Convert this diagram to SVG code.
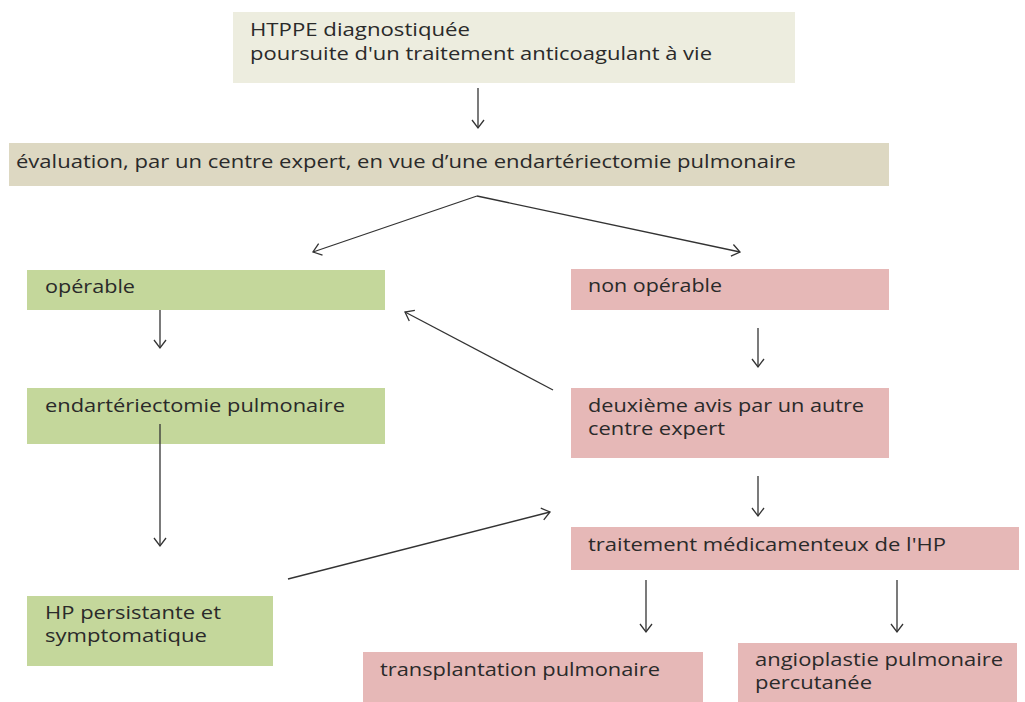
<svg xmlns="http://www.w3.org/2000/svg" width="1025" height="702" viewBox="0 0 1025 702">
<defs>
<style>
.t{font-family:"Open Sans","Noto Sans","Liberation Sans",sans-serif;font-size:18px;fill:#2a2a2a}
.g{fill:#c4d79b}
.p{fill:#e6b8b7}
.c{stroke:#333;stroke-width:1.3;fill:none;marker-end:url(#a)}
</style>
<marker id="a" markerWidth="14" markerHeight="14" refX="10" refY="7" orient="auto" markerUnits="userSpaceOnUse">
<path d="M2,1 L10,7 L2,13" fill="none" stroke="#333" stroke-width="1.3"/>
</marker>
</defs>
<rect width="1025" height="702" fill="#fff"/>
<g id="n1"><rect x="233" y="12" width="562" height="71" fill="#ededdf"/>
<text class="t" x="250" y="36" textLength="220" lengthAdjust="spacingAndGlyphs">HTPPE diagnostiquée</text>
<text class="t" x="250" y="60" textLength="462" lengthAdjust="spacingAndGlyphs">poursuite d'un traitement anticoagulant à vie</text></g>
<g id="n2"><rect x="9" y="143" width="880" height="43" fill="#ddd8c2"/>
<text class="t" x="16" y="168" textLength="780" lengthAdjust="spacingAndGlyphs">évaluation, par un centre expert, en vue d’une endartériectomie pulmonaire</text></g>
<g id="n3"><rect class="g" x="27" y="270" width="358" height="40"/>
<text class="t" x="45" y="293" textLength="90" lengthAdjust="spacingAndGlyphs">opérable</text></g>
<g id="n4"><rect class="g" x="27" y="388" width="358" height="56"/>
<text class="t" x="45" y="412" textLength="300" lengthAdjust="spacingAndGlyphs">endartériectomie pulmonaire</text></g>
<g id="n5"><rect class="g" x="27" y="596" width="246" height="70"/>
<text class="t" x="45" y="619" textLength="176" lengthAdjust="spacingAndGlyphs">HP persistante et</text>
<text class="t" x="45" y="642" textLength="162" lengthAdjust="spacingAndGlyphs">symptomatique</text></g>
<g id="n6"><rect class="p" x="571" y="269" width="318" height="41"/>
<text class="t" x="588" y="292" textLength="134" lengthAdjust="spacingAndGlyphs">non opérable</text></g>
<g id="n7"><rect class="p" x="571" y="388" width="318" height="70"/>
<text class="t" x="588" y="412" textLength="276" lengthAdjust="spacingAndGlyphs">deuxième avis par un autre</text>
<text class="t" x="588" y="435" textLength="137" lengthAdjust="spacingAndGlyphs">centre expert</text></g>
<g id="n8"><rect class="p" x="571" y="527" width="448" height="43"/>
<text class="t" x="588" y="551" textLength="358" lengthAdjust="spacingAndGlyphs">traitement médicamenteux de l'HP</text></g>
<g id="n9"><rect class="p" x="363" y="652" width="340" height="50"/>
<text class="t" x="380" y="676" textLength="280" lengthAdjust="spacingAndGlyphs">transplantation pulmonaire</text></g>
<g id="n10"><rect class="p" x="738" y="643" width="279" height="59"/>
<text class="t" x="755" y="666" textLength="248" lengthAdjust="spacingAndGlyphs">angioplastie pulmonaire</text>
<text class="t" x="755" y="689" textLength="117" lengthAdjust="spacingAndGlyphs">percutanée</text></g>
<g id="connectors">
<path class="c" d="M478,88 V128"/>
<path class="c" d="M477,196 L313,252"/>
<path class="c" d="M477,196 L740,252"/>
<path class="c" d="M160,310 V348"/>
<path class="c" d="M160,424 V546"/>
<path class="c" d="M758,328 V367"/>
<path class="c" d="M553,390 L405,312"/>
<path class="c" d="M758,476 V516"/>
<path class="c" d="M288,579 L550,512"/>
<path class="c" d="M646,580 V632"/>
<path class="c" d="M897,580 V632"/>
</g>
</svg>
